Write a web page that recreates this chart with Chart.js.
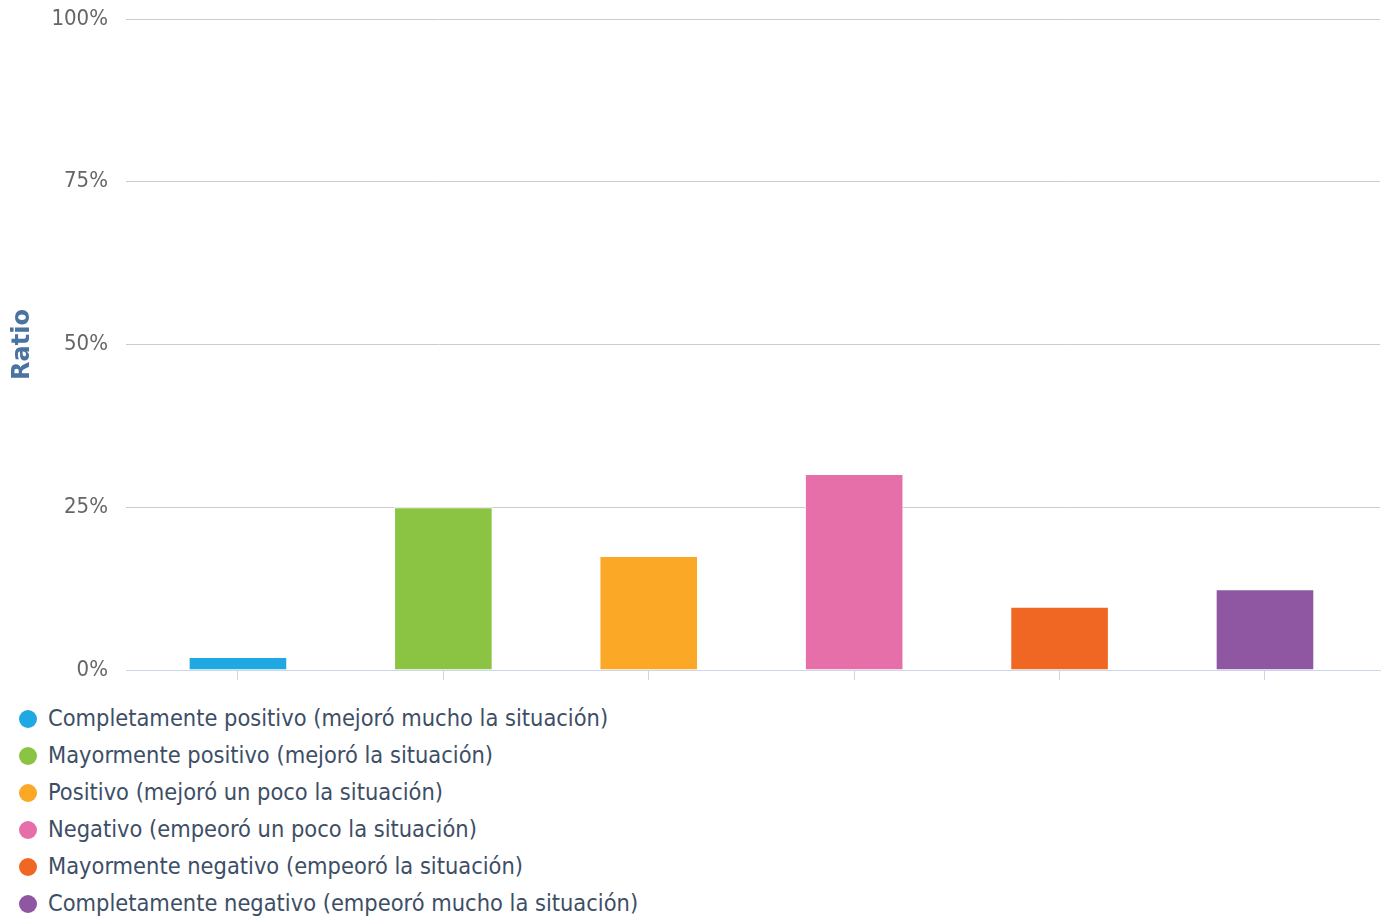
<!DOCTYPE html>
<html>
<head>
<meta charset="utf-8">
<script src="https://cdn.jsdelivr.net/npm/chart.js@4/dist/chart.umd.min.js"></script>
<style>
  body { margin: 0; background: #fff; }
  .chart-box { position: relative; width: 1389px; height: 703px; }
  .legend { margin-top: -3px; padding-left: 19px; font-family: "DejaVu Sans Condensed", "DejaVu Sans", sans-serif; font-size: 23.4px; color: #3d4e66; }
  .legend .item { height: 37px; line-height: 37px; display: flex; align-items: center; white-space: nowrap; }
  .legend .dot { width: 18px; height: 18px; border-radius: 50%; margin-right: 11px; flex: none; }
</style>
</head>
<body>
<div class="chart-box"><canvas id="myChart"></canvas></div>
<div class="legend" id="legend"></div>
<script>
const categories = [
    "Completamente positivo (mejoró mucho la situación)",
    "Mayormente positivo (mejoró la situación)",
    "Positivo (mejoró un poco la situación)",
    "Negativo (empeoró un poco la situación)",
    "Mayormente negativo (empeoró la situación)",
    "Completamente negativo (empeoró mucho la situación)"
];
const ratios = [2.0, 25.0, 17.5, 30.1, 9.7, 12.4];
const barColors = ["#1fa8e1", "#8bc443", "#faa826", "#e66fa9", "#f06724", "#8f56a1"];
const yTicks = [0, 25, 50, 75, 100];

const tickFont = { family: "'DejaVu Sans Condensed', 'DejaVu Sans', sans-serif", size: 22 };

// html legend, one row per category
const legendBox = document.getElementById("legend");
categories.forEach((name, i) => {
    const row = document.createElement("div");
    row.className = "item";
    const dot = document.createElement("span");
    dot.className = "dot";
    dot.style.background = barColors[i];
    const txt = document.createElement("span");
    txt.textContent = name;
    row.appendChild(dot);
    row.appendChild(txt);
    legendBox.appendChild(row);
});

const ctx = document.getElementById("myChart").getContext("2d");
const myChart = new Chart(ctx, {
    type: "bar",
    data: {
        datasets: [{
            label: "Ratio",
            data: ratios.map((v, i) => ({ x: i, y: v })),
            backgroundColor: barColors,
            borderColor: "#ffffff",
            borderWidth: 1,
            barPercentage: 1,
            categoryPercentage: 0.48
        }]
    },
    options: {
        responsive: true,
        maintainAspectRatio: false,
        animation: false,
        layout: { padding: { top: 19, right: 9, left: 8, bottom: 0 } },
        plugins: {
            legend: { display: false },
            tooltip: { enabled: false }
        },
        scales: {
            x: {
                type: "linear",
                offset: false,
                min: -0.545,
                max: 5.56,
                afterBuildTicks: (scale) => {
                    scale.ticks = categories.map((c, i) => ({ value: i }));
                },
                afterFit: (scale) => {
                    scale.height = 33;
                    scale.paddingLeft = 0;
                    scale.paddingRight = 0;
                },
                ticks: { callback: () => "", font: tickFont },
                grid: { offset: false, drawOnChartArea: false, color: "#ccd6eb", tickLength: 10 },
                border: { color: "#ccd6eb", width: 1 }
            },
            y: {
                min: 0,
                max: 100,
                afterBuildTicks: (scale) => {
                    scale.ticks = yTicks.map(v => ({ value: v }));
                },
                afterFit: (scale) => {
                    scale.width = 118;
                    scale.paddingTop = 0;
                    scale.paddingBottom = 0;
                },
                ticks: {
                    callback: (v) => v + "%",
                    color: "#666666",
                    font: tickFont,
                    padding: 18
                },
                grid: { color: "#cccccc", drawTicks: false },
                border: { display: false },
                title: {
                    display: true,
                    text: "Ratio",
                    color: "#4a73a0",
                    font: { family: "'DejaVu Sans', sans-serif", size: 24, weight: "bold" },
                    padding: 0
                }
            }
        }
    }
});
</script>
</body>
</html>
